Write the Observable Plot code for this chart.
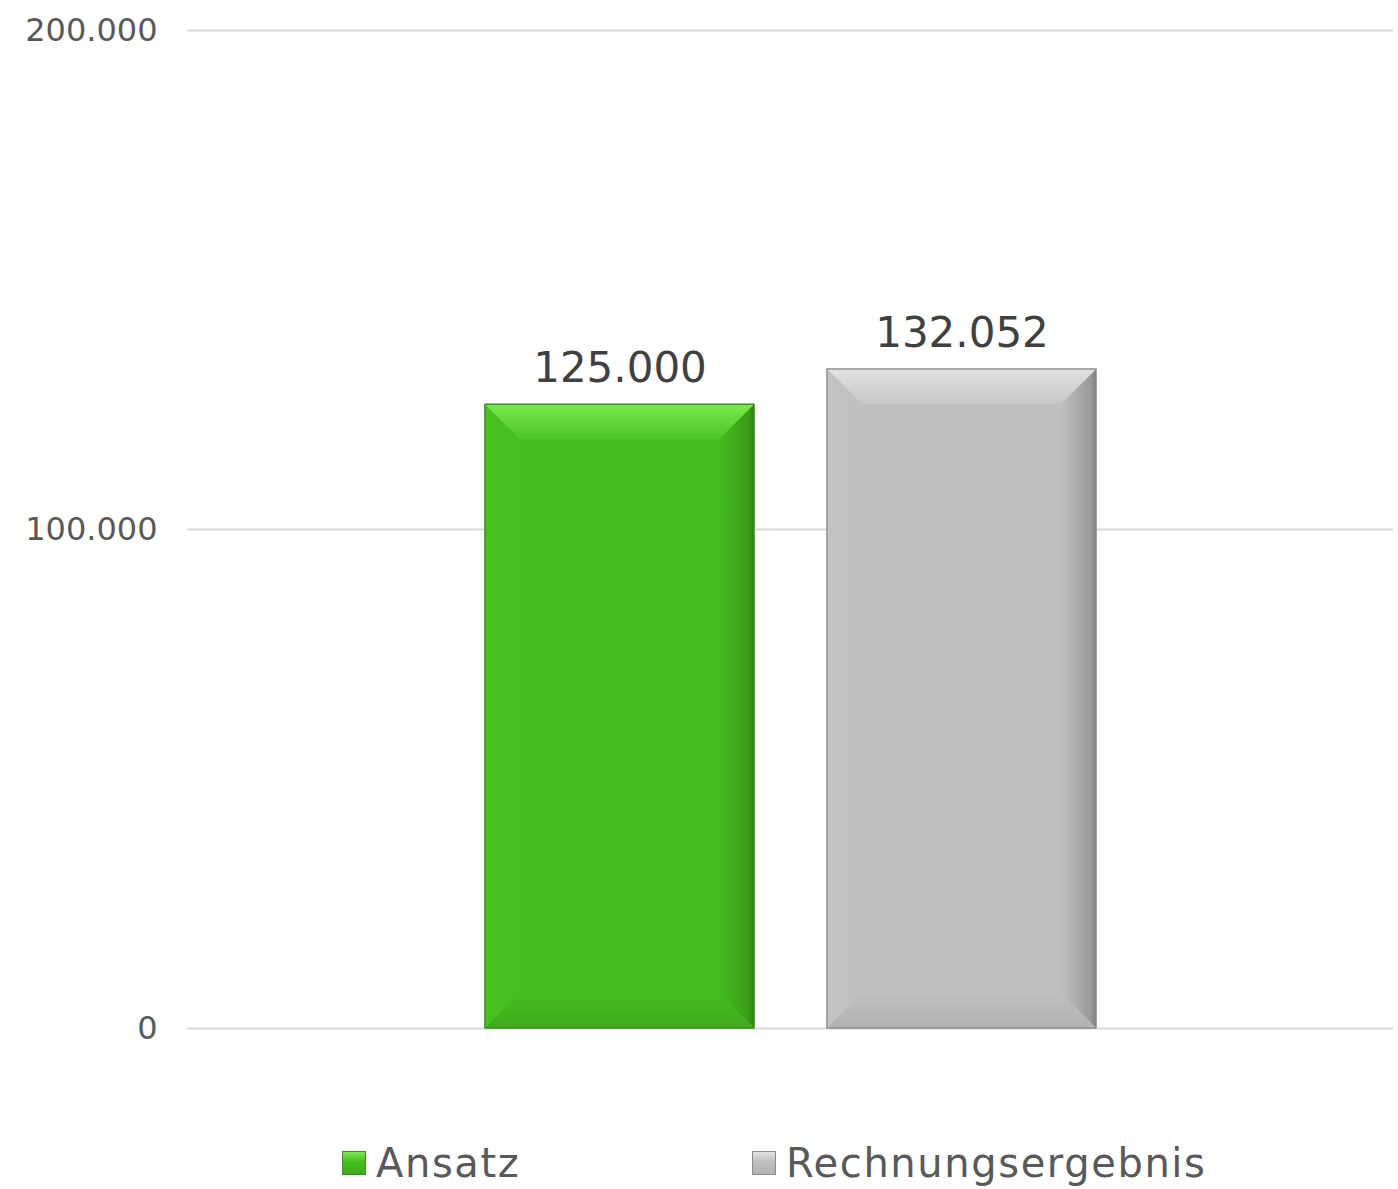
<!DOCTYPE html>
<html><head><meta charset="utf-8">
<script src="https://cdn.jsdelivr.net/npm/d3@7"></script>
<script src="https://cdn.jsdelivr.net/npm/@observablehq/plot@0.6"></script>
<style>
body{margin:0;background:#fff;font-family:"DejaVu Sans",Verdana,sans-serif;overflow:hidden;}
#legend{position:relative;height:89px;width:1398px;font-family:"DejaVu Sans",sans-serif;font-size:40px;color:#595959;letter-spacing:1.6px;}
.item{position:absolute;top:38px;display:flex;align-items:center;height:50px;line-height:50px;}
.sw{width:24px;height:24px;margin-right:10px;box-sizing:border-box;}
</style></head>
<body>
<div id="chart"></div>
<div id="legend"></div>
<script>
const categories = ["Ansatz", "Rechnungsergebnis"];
const values = [125000, 132052];
const labels = ["125.000", "132.052"];
const yTicks = [0, 100000, 200000];
const yTickLabels = ["0", "100.000", "200.000"];
const colors = {
  Ansatz: {main:"#44bd1f", light:"#7ce84e", topEnd:"#4cc426", left:"#48c221", right:"#3a9c18", edge:"#2f7f14", bottom:"#3fab1d", stroke:"#3c8a22"},
  Rechnungsergebnis: {main:"#bfbfbf", light:"#e2e2e2", topEnd:"#c6c6c6", left:"#c3c3c3", right:"#9a9a9a", edge:"#7f7f7f", bottom:"#b2b2b2", stroke:"#8c8c8c"}
};

const data = categories.map((c, i) => ({cat: c, value: values[i], label: labels[i]}));

function bevelRender(index, scales, values, dims, ctx, next) {
  const g = next(index, scales, values, dims, ctx);
  const sel = d3.select(g);
  const defs = sel.append("defs");
  const bevel = 35;
  sel.selectAll("rect").each(function(_, k) {
    const r = d3.select(this);
    const i = index[k];
    const col = colors[data[i].cat];
    const x = +r.attr("x"), y = +r.attr("y"), w = +r.attr("width"), h = +r.attr("height");
    const b = Math.min(bevel, w / 2, h / 2);
    const gt = defs.append("linearGradient").attr("id", "gt" + i).attr("x1", 0).attr("x2", 0).attr("y1", 0).attr("y2", 1);
    gt.append("stop").attr("offset", 0).attr("stop-color", col.light);
    gt.append("stop").attr("offset", 1).attr("stop-color", col.topEnd);
    const gr = defs.append("linearGradient").attr("id", "gr" + i).attr("x1", 0).attr("x2", 1).attr("y1", 0).attr("y2", 0);
    gr.append("stop").attr("offset", 0).attr("stop-color", col.main);
    gr.append("stop").attr("offset", 0.85).attr("stop-color", col.right);
    gr.append("stop").attr("offset", 1).attr("stop-color", col.edge);
    const gb = defs.append("linearGradient").attr("id", "gb" + i).attr("x1", 0).attr("x2", 0).attr("y1", 0).attr("y2", 1);
    gb.append("stop").attr("offset", 0).attr("stop-color", col.main);
    gb.append("stop").attr("offset", 1).attr("stop-color", col.bottom);
    const gl = defs.append("linearGradient").attr("id", "gl" + i).attr("x1", 0).attr("x2", 1).attr("y1", 0).attr("y2", 0);
    gl.append("stop").attr("offset", 0).attr("stop-color", col.left);
    gl.append("stop").attr("offset", 1).attr("stop-color", col.main);
    r.attr("fill", col.main).attr("stroke", col.stroke).attr("stroke-width", 1);
    const pts = a => a.map(p => p.join(",")).join(" ");
    const parent = d3.select(this.parentNode);
    parent.append("polygon").attr("points", pts([[x, y], [x + b, y + b], [x + b, y + h - b], [x, y + h]])).attr("fill", "url(#gl" + i + ")");
    parent.append("polygon").attr("points", pts([[x + w, y], [x + w, y + h], [x + w - b, y + h - b], [x + w - b, y + b]])).attr("fill", "url(#gr" + i + ")");
    parent.append("polygon").attr("points", pts([[x, y + h], [x + b, y + h - b], [x + w - b, y + h - b], [x + w, y + h]])).attr("fill", "url(#gb" + i + ")");
    parent.append("polygon").attr("points", pts([[x, y], [x + w, y], [x + w - b, y + b], [x + b, y + b]])).attr("fill", "url(#gt" + i + ")");
    parent.append("rect").attr("x", x).attr("y", y).attr("width", w).attr("height", h).attr("fill", "none").attr("stroke", col.stroke).attr("stroke-width", 1.2);
  });
  return g;
}

const chart = Plot.plot({
  width: 1398,
  height: 1100,
  marginLeft: 187,
  marginRight: 5,
  marginTop: 30,
  marginBottom: 72,
  style: {fontFamily: "'DejaVu Sans', Verdana, sans-serif", background: "#fff"},
  x: {domain: categories, range: [484, 1097], paddingInner: 0.2128, paddingOuter: 0, axis: null},
  y: {domain: [0, 200000], axis: null},
  marks: [
    Plot.ruleY(yTicks, {stroke: "#d9d9d9", strokeWidth: 2}),
    Plot.text(yTicks, {y: d => d, frameAnchor: "left", dx: -30, text: (d, i) => yTickLabels[i], textAnchor: "end", fontSize: 32, fill: "#595959"}),
    Plot.barY(data, {x: "cat", y: "value", render: bevelRender}),
    Plot.text(data, {x: "cat", y: "value", text: "label", dy: -36, fontSize: 42, fill: "#404040"})
  ]
});
document.getElementById("chart").appendChild(chart);

const legendX = [{sw: 342}, {sw: 752}];
const lg = document.getElementById("legend");
categories.forEach((c, i) => {
  const col = colors[c];
  const it = document.createElement("div");
  it.className = "item";
  it.style.left = legendX[i].sw + "px";
  const sw = document.createElement("div");
  sw.className = "sw";
  sw.style.background = `linear-gradient(to bottom, ${col.light}, ${col.main} 45%, ${col.bottom})`;
  sw.style.border = `1px solid ${col.stroke}`;
  it.appendChild(sw);
  const t = document.createElement("span");
  t.textContent = c;
  it.appendChild(t);
  lg.appendChild(it);
});
</script>
</body></html>
